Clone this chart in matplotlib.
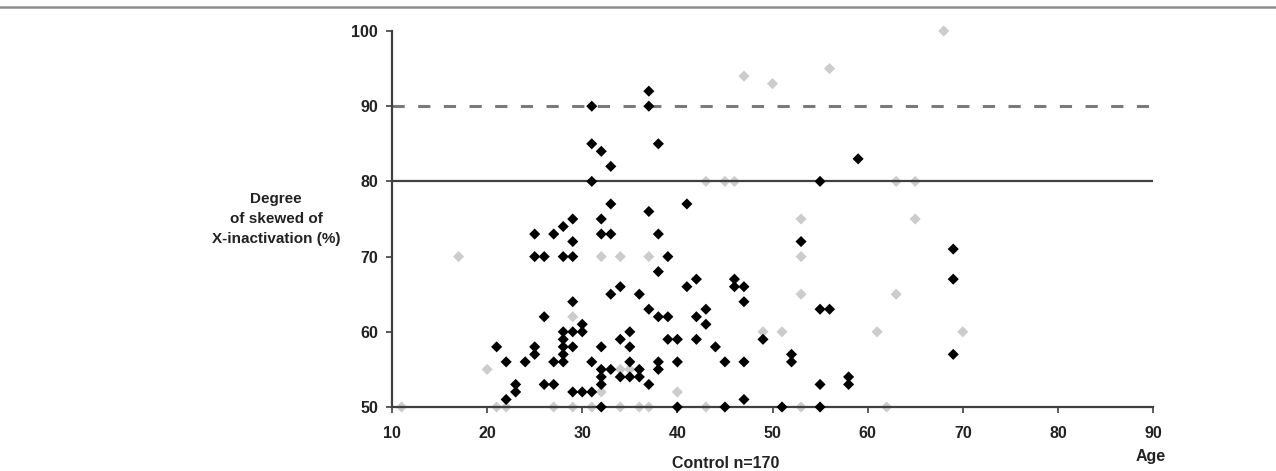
#!/usr/bin/env python3
"""
Scatter of skewed X-inactivation degree vs age (controls, n=170).
Black diamonds / grey diamonds, with 80 % (solid) and 90 % (dashed) cut-offs.
"""
import matplotlib
matplotlib.use("Agg")
import matplotlib.pyplot as plt
from matplotlib.lines import Line2D

# black series: (age, % skewing)
black_age = [21, 22, 22, 23, 23, 24,
             25, 25, 25, 25, 26, 26, 26, 27, 27, 27,
             28, 28, 28, 28, 28, 28, 28,
             29, 29, 29, 29, 29, 29, 29,
             30, 30, 30, 31, 31, 31, 31, 31,
             32, 32, 32, 32, 32, 32, 32, 32,
             33, 33, 33, 33, 33, 34, 34, 34,
             35, 35, 35, 35, 36, 36, 36,
             37, 37, 37, 37, 37, 38, 38, 38, 38, 38, 38,
             39, 39, 39, 40, 40, 40, 41, 41, 42, 42, 42,
             43, 43, 44, 45, 45, 46, 46, 47, 47, 47, 47,
             49, 51, 52, 52, 53, 55, 55, 55, 55, 56,
             58, 58, 59, 69, 69, 69]
black_val = [58, 56, 51, 53, 52, 56,
             73, 70, 58, 57, 70, 62, 53, 73, 56, 53,
             74, 70, 60, 59, 58, 57, 56,
             75, 72, 70, 64, 60, 58, 52,
             61, 60, 52, 90, 85, 80, 56, 52,
             84, 75, 73, 58, 55, 54, 53, 50,
             82, 77, 73, 65, 55, 66, 59, 54,
             60, 58, 56, 54, 65, 55, 54,
             92, 90, 76, 63, 53, 85, 73, 68, 62, 56, 55,
             70, 62, 59, 59, 56, 50, 77, 66, 67, 62, 59,
             63, 61, 58, 56, 50, 67, 66, 66, 64, 56, 51,
             59, 50, 57, 56, 72, 80, 63, 53, 50, 63,
             54, 53, 83, 71, 67, 57]

# grey series
grey_age = [11, 17, 20, 21, 22, 27, 29, 29, 31, 32, 32, 34, 34, 35,
            34, 36, 37, 37, 40, 43, 43, 45, 46, 47, 49, 50, 51,
            53, 53, 53, 53, 56, 61, 62, 63, 63, 65, 65, 68, 70]
grey_val = [50, 70, 55, 50, 50, 50, 62, 50, 50, 70, 52, 70, 55, 55,
            50, 50, 50, 70, 52, 80, 50, 80, 80, 94, 60, 93, 60,
            75, 70, 65, 50, 95, 60, 50, 80, 65, 80, 75, 100, 60]

x_ticks = [10, 20, 30, 40, 50, 60, 70, 80, 90]
y_ticks = [50, 60, 70, 80, 90, 100]

TICK_FONT = ["Liberation Sans Narrow", "Liberation Sans", "DejaVu Sans"]
LABEL_FONT = ["Liberation Sans", "DejaVu Sans"]


def main():
    W, H = 1276, 471
    fig = plt.figure(figsize=(W / 100, H / 100), dpi=100)
    ax = fig.add_axes([392 / W, 64 / H, 761 / W, 376 / H])

    # cut-off lines
    ax.axhline(90, color="#7a7a7a", lw=2.2, ls=(0, (4.0, 4.4)), zorder=2)
    ax.axhline(80, color="#404040", lw=1.6, zorder=2)

    ax.scatter(grey_age, grey_val, marker="D", s=32, color="#cccccc",
               edgecolors="none", zorder=1.5, clip_on=False)
    ax.scatter(black_age, black_val, marker="D", s=32, color="black",
               edgecolors="none", zorder=3, clip_on=False)

    ax.set_xlim(10, 90)
    ax.set_ylim(50, 100)
    ax.set_xticks(x_ticks)
    ax.set_yticks(y_ticks)
    for s in ("top", "right"):
        ax.spines[s].set_visible(False)
    for s in ("left", "bottom"):
        ax.spines[s].set_color("#404040")
        ax.spines[s].set_linewidth(1.6)
    ax.tick_params(axis="both", direction="out", length=4, width=1.2,
                   color="#404040")
    ax.tick_params(axis="x", pad=10)
    ax.tick_params(axis="y", pad=6)
    for lab in ax.get_xticklabels() + ax.get_yticklabels():
        lab.set_family(TICK_FONT)
        lab.set_fontweight("bold")
        lab.set_fontsize(11.5)
        lab.set_color("#222222")

    fig.text(276 / W, 1 - 219 / H, "Degree\nof skewed of\nX-inactivation (%)",
             ha="center", va="center", fontsize=11, fontweight="bold",
             family=LABEL_FONT, linespacing=1.55, color="#222222")
    fig.text(1151 / W, 1 - 456 / H, "Age", ha="center", va="center",
             fontsize=11.5, fontweight="bold", family=TICK_FONT,
             color="#222222")
    fig.text(726 / W, 1 - 463 / H, "Control n=170", ha="center",
             va="center", fontsize=11.5, fontweight="bold",
             family=TICK_FONT, color="#222222")

    # thin frame line across the top of the figure
    fig.add_artist(Line2D([0, 1], [1 - 7 / H, 1 - 7 / H],
                          transform=fig.transFigure, color="#8c8c8c",
                          lw=1.8))

    fig.savefig("out.png", dpi=100)
    plt.close(fig)


if __name__ == "__main__":
    main()
